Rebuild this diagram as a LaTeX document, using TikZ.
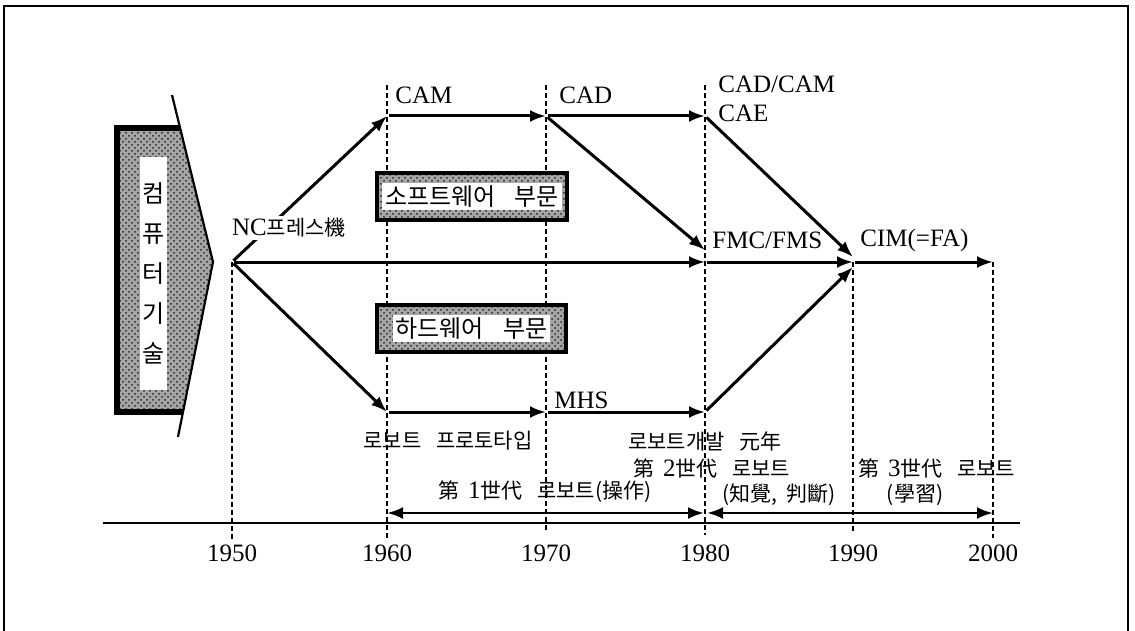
\documentclass[tikz,border=0pt]{standalone}
\usepackage{fontspec}
\setmainfont{Liberation Serif}
\newfontfamily\kr{Noto Sans CJK KR}
\usetikzlibrary{arrows.meta,patterns}

\begin{document}
\begin{tikzpicture}[x=0.5pt,y=-0.5pt,
  flow/.style={line width=1.5pt,-{Latex[length=8pt,width=6pt]},shorten <=1pt},
  era/.style={line width=1.3pt,{Latex[length=8pt,width=6pt]}-{Latex[length=8pt,width=6pt]}},
  yearline/.style={line width=1pt,dash pattern=on 2.5pt off 1.5pt},
  shade/.style={preaction={fill=black!35},pattern=crosshatch dots,pattern color=black!85},
  lbl/.style={font=\fontsize{12.5}{14}\selectfont,inner sep=1pt},
  klbl/.style={font=\kr\fontsize{10.5}{13.5}\selectfont,inner sep=1pt}]
\useasboundingbox (0,0) rectangle (1135,631);
% frame
\draw[line width=1.2pt] (4,631)--(4,6)--(1128,6)--(1128,631);
% left arrow shape
\fill[shade] (117,128)--(180,128)--(213,262)--(183,412)--(117,412)--cycle;
\draw[line width=2.8pt] (180,128)--(117,128)--(117,412)--(183,412);
\draw[line width=1.1pt] (172,95)--(213,262)--(178,437);
\fill[white] (140,157) rectangle (167,390);
\node[klbl,font=\kr\fontsize{12}{20}\selectfont,align=center] (tech) at (153.5,273) {컴\\퓨\\터\\기\\술};
% year lines and axis
\draw[yearline] (232,262)--(232,540);
\draw[yearline] (387,85)--(387,540);
\draw[yearline] (546,85)--(546,532);
\draw[yearline] (705,85)--(705,535);
\draw[yearline] (853,262)--(853,532);
\draw[yearline] (993,262)--(993,538);
\draw[line width=1.1pt] (103,523)--(1020,523);
\foreach \yr/\xx in {1950/232,1960/387,1970/546,1980/705,1990/853,2000/993}
  \node[lbl] (y\yr) at (\xx,553) {\yr};
% points
\coordinate (nc) at (232,262);
\coordinate (cam) at (387,116);
\coordinate (cad) at (546,116);
\coordinate (cae) at (705,116);
\coordinate (fmc) at (705,262);
\coordinate (cim) at (853,262);
\coordinate (fin) at (993,262);
\coordinate (proto) at (387,412);
\coordinate (mhs) at (546,412);
\coordinate (rd) at (705,412);
% flows
\draw[flow] (nc)--(cam);
\draw[flow] (cam)--(cad);
\draw[flow] (cad)--(cae);
\draw[flow] (cad)--([yshift=6pt]fmc);
\draw[flow] (cae)--([yshift=2.5pt]cim);
\draw[flow] (nc)--(fmc);
\draw[flow] (fmc)--(cim);
\draw[flow] (cim)--(fin);
\draw[flow] (nc)--(proto);
\draw[flow] (proto)--(mhs);
\draw[flow] (mhs)--(rd);
\draw[flow] (rd)--([yshift=-2.5pt]cim);
% generations
\coordinate (g1a) at (387,513);
\coordinate (g1b) at (704,513);
\coordinate (g2a) at (707,513);
\coordinate (g2b) at (993,513);
\draw[era] (g1a)--(g1b);
\draw[era] (g2a)--(g2b);
% boxes
\node[draw,shade,line width=1.6pt,minimum width=95pt,minimum height=23.5pt] (soft) at (472,196.5) {};
\node[klbl,fill=white,inner sep=1.5pt,font=\kr\fontsize{12}{13}\selectfont] (softtxt) at (soft) {소프트웨어\hspace{0.8em}부문};
\node[draw,shade,line width=1.6pt,minimum width=94.5pt,minimum height=23.5pt] (hard) at (471.5,328.5) {};
\node[klbl,fill=white,inner sep=1.5pt,font=\kr\fontsize{12}{13}\selectfont] (hardtxt) at (hard) {하드웨어\hspace{0.8em}부문};
% labels
\node[klbl,fill=white] (nclbl) at (289,228) {\rmfamily\fontsize{12.5}{14}\selectfont NC\kr\fontsize{10.5}{13.5}\selectfont 프레스機};
\node[lbl,anchor=west] (camlbl) at (393,95) {CAM};
\node[lbl,anchor=west] (cadlbl) at (557,95) {CAD};
\node[lbl,anchor=west,align=left,font=\fontsize{12.5}{14.5}\selectfont] (caelbl) at (716,99) {CAD/CAM\\CAE};
\node[lbl,anchor=west] (fmclbl) at (710,240) {FMC/FMS};
\node[lbl,anchor=west] (cimlbl) at (858,240) {CIM(=FA)};
\node[lbl,anchor=west] (mhslbl) at (552,400) {MHS};
\node[klbl] (protolbl) at (448,441) {로보트\hspace{0.7em}프로토타입};
\node[klbl] (rdlbl) at (705,441) {로보트개발\hspace{0.7em}元年};
\node[klbl] (g2lbl) at (712,468) {第\hspace{0.4em}\rmfamily\fontsize{12.5}{14}\selectfont 2\kr\fontsize{10.5}{13.5}\selectfont 世代\hspace{0.7em}로보트};
\node[klbl] (g2sub) at (779,495) {(知覺,\hspace{0.4em}判斷)};
\node[klbl] (g1lbl) at (545,492) {第\hspace{0.4em}\rmfamily\fontsize{12.5}{14}\selectfont 1\kr\fontsize{10.5}{13.5}\selectfont 世代\hspace{0.7em}로보트(操作)};
\node[klbl] (g3lbl) at (937,468) {第\hspace{0.4em}\rmfamily\fontsize{12.5}{14}\selectfont 3\kr\fontsize{10.5}{13.5}\selectfont 世代\hspace{0.7em}로보트};
\node[klbl] (g3sub) at (915,495) {(學習)};
\end{tikzpicture}
\end{document}
